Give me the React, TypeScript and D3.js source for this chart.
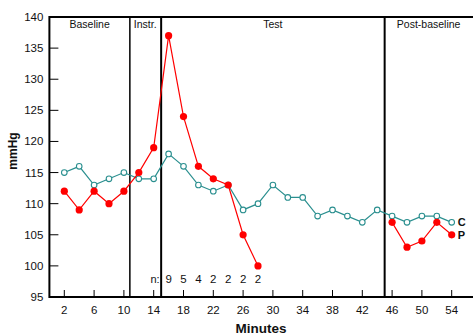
import * as d3 from 'd3';

const minutes = [2, 4, 6, 8, 10, 12, 14, 16, 18, 20, 22, 24, 26, 28, 30, 32, 34, 36, 38, 40, 42, 44, 46, 48, 50, 52, 54];
const controlValues = [115, 116, 113, 114, 115, 114, 114, 118, 116, 113, 112, 113, 109, 110, 113, 111, 111, 108, 109, 108, 107, 109, 108, 107, 108, 108, 107];
const patientTestMinutes = [2, 4, 6, 8, 10, 12, 14, 16, 18, 20, 22, 24, 26, 28];
const patientTestValues = [112, 109, 112, 110, 112, 115, 119, 137, 124, 116, 114, 113, 105, 100];
const patientPostMinutes = [46, 48, 50, 52, 54];
const patientPostValues = [107, 103, 104, 107, 105];
const countMinutes = [16, 18, 20, 22, 24, 26, 28];
const countLabels = ['9', '5', '4', '2', '2', '2', '2'];
const xTicks = [2, 6, 10, 14, 18, 22, 26, 30, 34, 38, 42, 46, 50, 54];
const yTicks = [95, 100, 105, 110, 115, 120, 125, 130, 135, 140];
const phaseBounds = [10.8, 15, 45];
const phaseNames = ['Baseline', 'Instr.', 'Test', 'Post-baseline'];

const W = 473;
const H = 335;
const left = 49.4;
const top = 17;
const bottom = 297;
const teal = '#2a8f8f';
const red = '#ff0000';
const font = 'Liberation Sans, Arial, sans-serif';

export default function App() {
  const x = d3.scaleLinear().domain([0, 2]).range([left, left + 14.9]);
  const y = d3.scaleLinear().domain([95, 140]).range([bottom, top]);
  const line = d3.line<[number, number]>().x((d) => x(d[0])).y((d) => y(d[1]));
  const ctrl = minutes.map((m, i) => [m, controlValues[i]] as [number, number]);
  const pTest = patientTestMinutes.map((m, i) => [m, patientTestValues[i]] as [number, number]);
  const pPost = patientPostMinutes.map((m, i) => [m, patientPostValues[i]] as [number, number]);
  const labelX = [x((0 + phaseBounds[0]) / 2), x(phaseBounds[0]) + 4, x((phaseBounds[1] + phaseBounds[2]) / 2), x(45) + 44];
  const labelAnchor = ['middle', 'start', 'middle', 'middle'];
  const lastC = ctrl[ctrl.length - 1];
  const lastP = pPost[pPost.length - 1];

  return (
    <svg width={W} height={H} style={{ position: 'absolute', left: 0, top: 0, background: '#fff' }} fontFamily={font}>
      {/* frame */}
      <line x1={left} x2={W + 2} y1={top} y2={top} stroke="#000" strokeWidth={2} />
      <line x1={left} x2={W + 2} y1={bottom} y2={bottom} stroke="#000" strokeWidth={2} />
      <line x1={left} x2={left} y1={top - 1} y2={bottom + 1} stroke="#000" strokeWidth={2} />
      {phaseBounds.map((b, i) => (
        <line key={i} x1={x(b)} x2={x(b)} y1={top} y2={bottom} stroke="#000" strokeWidth={i === 0 ? 1.5 : 2} />
      ))}
      {phaseNames.map((n, i) => (
        <text key={n} x={labelX[i]} y={28} fontSize={10.5} textAnchor={labelAnchor[i]} fill="#111">{n}</text>
      ))}
      {/* y axis */}
      {yTicks.map((t) => (
        <g key={t}>
          <line x1={left} x2={left + 9} y1={y(t)} y2={y(t)} stroke="#000" strokeWidth={1} />
          <text x={left - 6} y={y(t) + 4} fontSize={11.5} textAnchor="end" fill="#111">{t}</text>
        </g>
      ))}
      {/* x axis */}
      {xTicks.map((t) => (
        <g key={t}>
          <line x1={x(t)} x2={x(t)} y1={bottom} y2={bottom - 7} stroke="#000" strokeWidth={1} />
          <text x={x(t)} y={bottom + 17} fontSize={11.5} textAnchor="middle" fill="#111">{t}</text>
        </g>
      ))}
      <text x={261} y={333} fontSize={13.5} fontWeight="bold" textAnchor="middle" fill="#111">Minutes</text>
      <text transform={`translate(17,${151}) rotate(-90)`} fontSize={12} fontWeight="bold" textAnchor="middle" fill="#111">mmHg</text>
      {/* n counts */}
      <text x={x(15) - 1.5} y={283} fontSize={11} textAnchor="end" fill="#111">n:</text>
      {countMinutes.map((m, i) => (
        <text key={m} x={x(m)} y={283} fontSize={11.5} textAnchor="middle" fill="#111">{countLabels[i]}</text>
      ))}
      {/* control series */}
      <path d={line(ctrl) ?? ''} fill="none" stroke={teal} strokeWidth={1.2} />
      {ctrl.map((d, i) => (
        <circle key={i} cx={x(d[0])} cy={y(d[1])} r={2.8} fill="#fff" stroke={teal} strokeWidth={1.1} />
      ))}
      {/* patient series */}
      {[pTest, pPost].map((seg, k) => (
        <g key={k}>
          <path d={line(seg) ?? ''} fill="none" stroke={red} strokeWidth={1.2} />
          {seg.map((d, i) => (
            <circle key={i} cx={x(d[0])} cy={y(d[1])} r={3.6} fill={red} />
          ))}
        </g>
      ))}
      <text x={x(lastC[0]) + 6} y={y(lastC[1]) + 4} fontSize={11} fontWeight="bold" fill="#111">C</text>
      <text x={x(lastP[0]) + 6} y={y(lastP[1]) + 4} fontSize={11} fontWeight="bold" fill="#111">P</text>
    </svg>
  );
}
